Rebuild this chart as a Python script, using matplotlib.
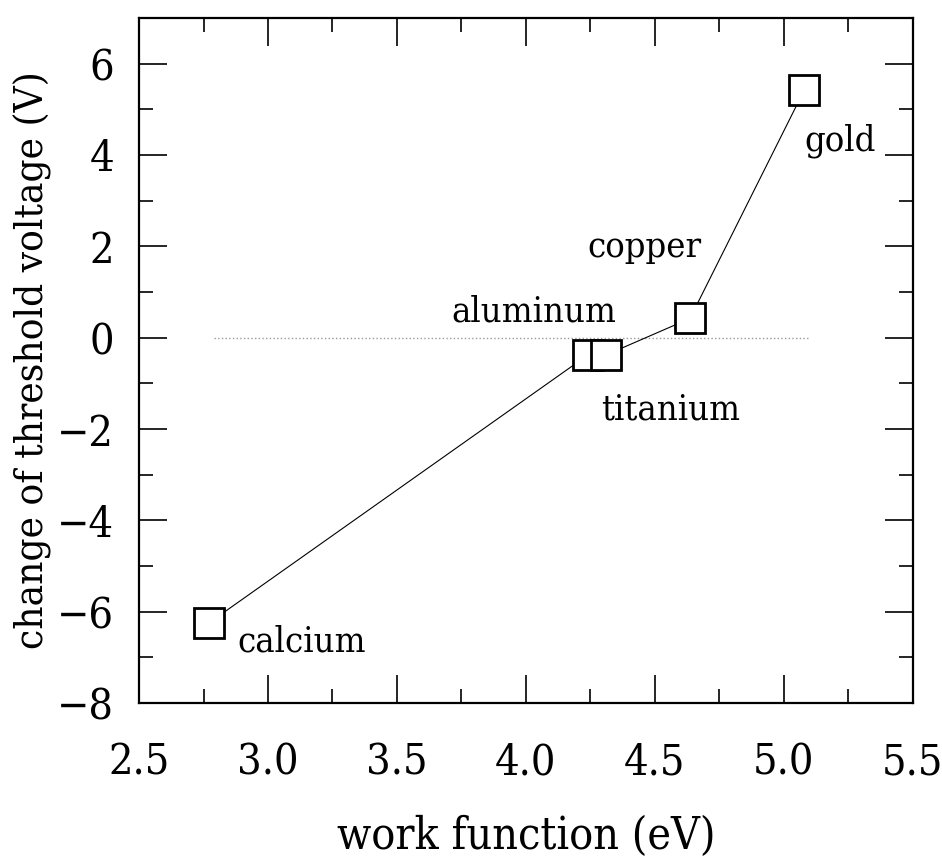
import matplotlib
matplotlib.use('Agg')
import matplotlib.pyplot as plt
from matplotlib.ticker import MultipleLocator

# work function (eV) vs change of threshold voltage (V)
metals = ['calcium', 'aluminum', 'titanium', 'copper', 'gold']
work_function = [2.77, 4.24, 4.31, 4.636, 5.08]
dvth = [-6.25, -0.38, -0.38, 0.42, 5.43]

# label positions (data coords, left edge / centre)
label_x = [2.88, 3.71, 4.29, 4.24, 5.08]
label_y = [-6.65, 0.57, -1.57, 1.98, 4.32]

zero_x = [2.79, 5.1]
zero_y = [0, 0]

FONT = dict(family='DejaVu Serif', stretch='condensed')

fig = plt.figure(figsize=(9.42, 8.64), dpi=100)
ax = fig.add_axes([0.1476, 0.1863, 0.8214, 0.7929])

ax.plot(zero_x, zero_y, color='#999999', linestyle=':', linewidth=1.0)
ax.plot(work_function, dvth, color='black', linewidth=0.8, zorder=2)
ax.plot(work_function, dvth, linestyle='none', marker='s', markersize=22,
        markerfacecolor='white', markeredgecolor='black', markeredgewidth=2.0, zorder=3)

for name, lx, ly in zip(metals, label_x, label_y):
    ax.text(lx, ly, name, fontsize=26, va='center', ha='left', **FONT)

ax.set_xlim(2.5, 5.5)
ax.set_ylim(-8, 7)
ax.xaxis.set_major_locator(MultipleLocator(0.5))
ax.xaxis.set_minor_locator(MultipleLocator(0.25))
ax.yaxis.set_major_locator(MultipleLocator(2))
ax.yaxis.set_minor_locator(MultipleLocator(1))
ax.tick_params(which='both', direction='in', top=True, right=True, width=1.2)
ax.tick_params(which='major', length=20)
ax.tick_params(which='minor', length=10)
ax.tick_params(axis='x', which='major', pad=28)
ax.tick_params(axis='y', which='major', pad=18)
ax.set_xticks([2.5, 3.0, 3.5, 4.0, 4.5, 5.0, 5.5])
ax.set_xticklabels(['2.5', '3.0', '3.5', '4.0', '4.5', '5.0', '5.5'])
ax.set_yticks([-8, -6, -4, -2, 0, 2, 4, 6])
ax.set_yticklabels(['\u22128', '\u22126', '\u22124', '\u22122', '0', '2', '4', '6'])
for lab in ax.get_xticklabels() + ax.get_yticklabels():
    lab.set_fontsize(31)
    lab.set_family('DejaVu Serif')
    lab.set_stretch('condensed')
for sp in ax.spines.values():
    sp.set_linewidth(1.6)

ax.set_xlabel('work function (eV)', fontsize=32, labelpad=22, **FONT)
ax.set_ylabel('change of threshold voltage (V)', fontsize=29, **FONT)
ax.yaxis.set_label_coords(-0.112, 0.5)

fig.savefig('out.png', dpi=100)
